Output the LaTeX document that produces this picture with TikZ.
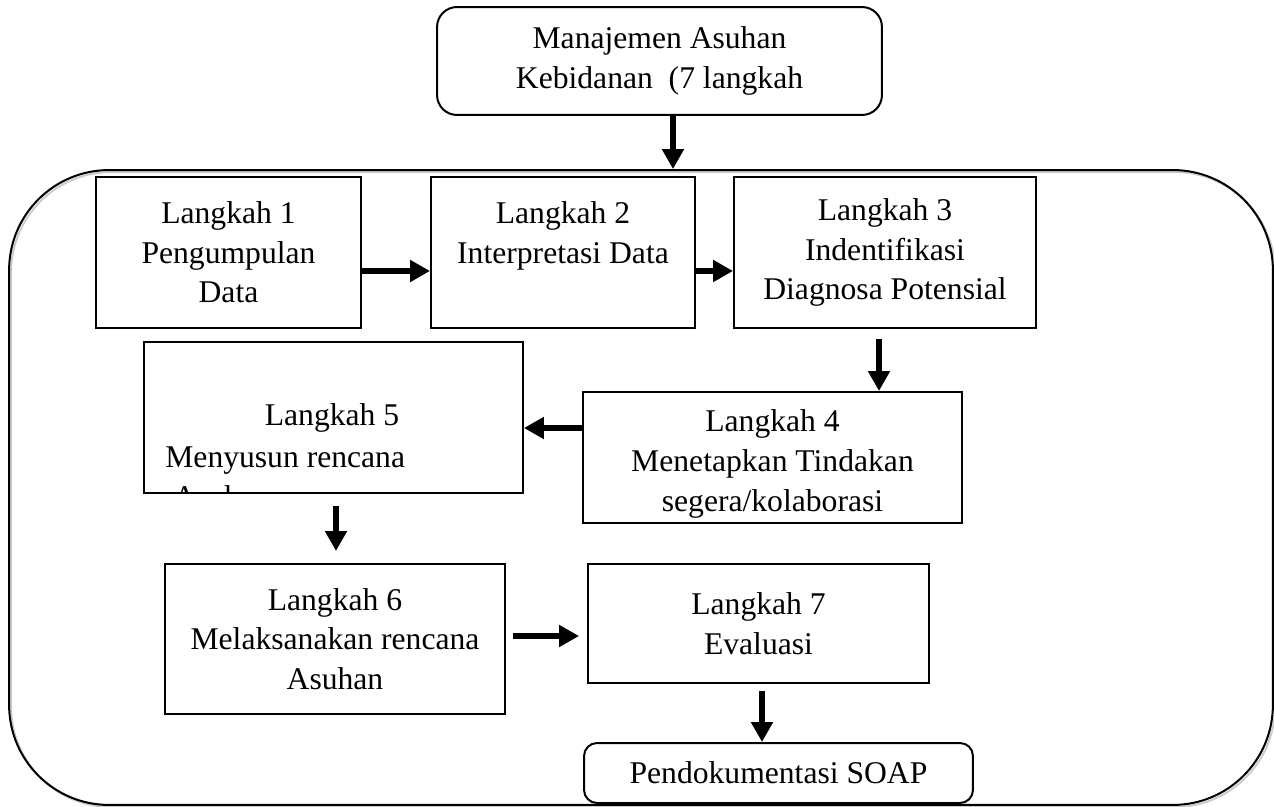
\documentclass[tikz,border=0pt]{standalone}
\usepackage{fontspec}
\setmainfont{Liberation Serif}
\usetikzlibrary{arrows.meta}

\tikzset{
  stepbox/.style={draw, line width=0.04cm, align=center, inner sep=0pt},
  roundbox/.style={stepbox, rounded corners=0.4cm},
  framebox/.style={draw, line width=0.04cm, rounded corners=2cm, minimum width=25.28cm, minimum height=12.7cm},
  flow/.style={line width=0.13cm, -{Triangle[length=0.4cm,width=0.42cm]}},
  steptext/.style={inner sep=0pt, align=center},
}

\begin{document}
\begin{tikzpicture}[x=0.02cm, y=-0.02cm, font=\fontsize{18}{22.5}\selectfont]
  \useasboundingbox (0,0) rectangle (1274,807);

  % Outer frame with its light shadow
  \node[framebox, draw=gray!40] (shadow) at (643,489.5) {};
  \node[framebox] (frame) at (641,487.5) {};

  % Title
  \node[roundbox, minimum width=8.9cm, minimum height=2.16cm] (top) at (659.5,61) {Manajemen Asuhan\\Kebidanan~~(7 langkah};

  % Steps
  \node[stepbox, minimum width=5.3cm, minimum height=3.02cm] (l1) at (228.5,252.5) {Langkah 1\\Pengumpulan\\Data};
  \node[stepbox, minimum width=5.28cm, minimum height=3.02cm] (l2) at (563,252.5) {Langkah 2\\Interpretasi Data\\~};
  \node[stepbox, minimum width=6.04cm, minimum height=3.02cm] (l3) at (885,252.5) {Langkah 3\\Indentifikasi\\Diagnosa Potensial};
  \node[stepbox, minimum width=7.58cm, minimum height=2.62cm] (l4) at (772.5,457.5) {};
  \node[steptext, anchor=base] (l4t) at (772.5,511) {Langkah 4\\Menetapkan Tindakan\\segera/kolaborasi};
  \node[stepbox, minimum width=7.58cm, minimum height=3.02cm] (l5) at (333.5,417.5) {};
  \begin{scope}
    \clip (l5.south west) rectangle (l5.north east);
    \node[steptext, anchor=base] (l5a) at (332,425) {Langkah 5};
    \node[steptext, anchor=base west] (l5b) at (165,467) {Menyusun rencana};
    \node[steptext, anchor=base west] (l5c) at (173,507) {Asuhan};
  \end{scope}
  \node[stepbox, minimum width=6.8cm, minimum height=3cm] (l6) at (335,639) {Langkah 6\\Melaksanakan rencana\\Asuhan};
  \node[stepbox, minimum width=6.82cm, minimum height=2.38cm] (l7) at (758.5,623.5) {Langkah 7\\Evaluasi};
  \node[stepbox, rounded corners=0.26cm, minimum width=7.78cm, minimum height=1.2cm] (soap) at (778.5,773) {Pendokumentasi SOAP};

  % Arrows
  \draw[flow] ([xshift=0.27cm]top.south) -- ([xshift=0.27cm]top.south |- frame.north);
  \draw[flow] ([yshift=-0.37cm]l1.east) -- ([yshift=-0.37cm]l1.east -| l2.west);
  \draw[flow] ([yshift=-0.37cm]l2.east) -- ([yshift=-0.37cm]l2.east -| l3.west);
  \draw[flow, shorten <=0.2cm] ([xshift=-0.12cm]l3.south) -- ([xshift=-0.12cm]l3.south |- l4.north);
  \draw[flow] ([yshift=0.59cm]l4.west) -- ([yshift=0.59cm]l4.west -| l5.east);
  \draw[flow, shorten <=0.24cm, shorten >=0.24cm] ([xshift=0.05cm]l5.south) -- ([xshift=0.05cm]l5.south |- l6.north);
  \draw[flow, shorten <=0.14cm, shorten >=0.16cm] ([yshift=0.06cm]l6.east) -- ([yshift=0.06cm]l6.east -| l7.west);
  \draw[flow, shorten <=0.14cm] ([xshift=0.07cm]l7.south) -- ([xshift=0.07cm]l7.south |- soap.north);
\end{tikzpicture}
\end{document}
